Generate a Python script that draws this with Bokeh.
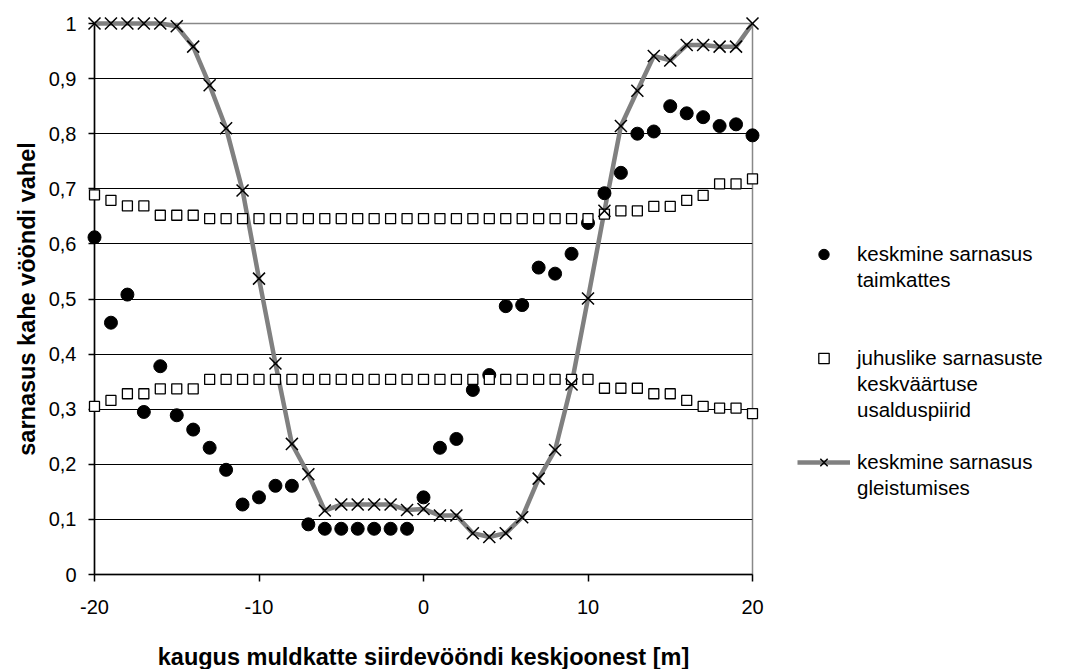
from bokeh.plotting import figure
from bokeh.models import Range1d, FixedTicker, Legend, LegendItem, ColumnDataSource
from bokeh.embed import file_html
from bokeh.resources import INLINE

distance = list(range(-20, 21))
veg_similarity = [0.612, 0.457, 0.508, 0.295, 0.378, 0.289, 0.263, 0.230, 0.190, 0.127,
                  0.140, 0.161, 0.161, 0.091, 0.083, 0.083, 0.083, 0.083, 0.083, 0.083,
                  0.140, 0.230, 0.246, 0.335, 0.362, 0.487, 0.489, 0.557, 0.546, 0.582,
                  0.638, 0.692, 0.729, 0.800, 0.804, 0.850, 0.837, 0.830, 0.814, 0.817, 0.797]
ci_upper = [0.689, 0.679, 0.669, 0.669, 0.652, 0.652, 0.652] + [0.646] * 24 + \
           [0.654, 0.660, 0.660, 0.668, 0.668, 0.679, 0.688, 0.709, 0.709, 0.718]
ci_lower = [0.305, 0.316, 0.328, 0.328, 0.337, 0.337, 0.337] + [0.354] * 24 + \
           [0.338, 0.338, 0.338, 0.328, 0.328, 0.316, 0.305, 0.302, 0.302, 0.292]
gley_similarity = [1.0, 1.0, 1.0, 1.0, 1.0, 0.995, 0.958, 0.888, 0.810, 0.697,
                   0.537, 0.383, 0.237, 0.182, 0.116, 0.127, 0.127, 0.127, 0.127, 0.117,
                   0.119, 0.107, 0.107, 0.075, 0.068, 0.075, 0.104, 0.174, 0.226, 0.345,
                   0.501, 0.660, 0.814, 0.878, 0.941, 0.933, 0.961, 0.961, 0.958, 0.958, 1.0]

xtick_values = [-20, -10, 0, 10, 20]
xtick_labels = ["-20", "-10", "0", "10", "20"]
ytick_values = [0, 0.1, 0.2, 0.3, 0.4, 0.5, 0.6, 0.7, 0.8, 0.9, 1]
ytick_labels = ["0", "0,1", "0,2", "0,3", "0,4", "0,5", "0,6", "0,7", "0,8", "0,9", "1"]

# legend text, one entry per line of each legend label
legend_veg = ["keskmine sarnasus", "taimkattes"]
legend_ci = ["juhuslike sarnasuste", "keskväärtuse", "usalduspiirid"]
legend_gley = ["keskmine sarnasus", "gleistumises"]

src = ColumnDataSource(dict(x=distance, veg=veg_similarity, up=ci_upper,
                            lo=ci_lower, gley=gley_similarity))

FONT = "Liberation Sans"

p = figure(frame_width=658, frame_height=551, output_backend="svg",
           toolbar_location=None,
           x_range=Range1d(-20, 20), y_range=Range1d(0, 1),
           min_border_left=94, min_border_right=0, min_border_top=23,
           min_border_bottom=95)
p.background_fill_color = "white"
p.border_fill_color = "white"
p.outline_line_color = "#888888"
p.outline_line_width = 1.5

p.xgrid.grid_line_color = None
p.ygrid.grid_line_color = "black"
p.ygrid.grid_line_width = 1
p.ygrid.ticker = FixedTicker(ticks=ytick_values)

p.xaxis.ticker = FixedTicker(ticks=xtick_values)
p.xaxis.major_label_overrides = {v: l for v, l in zip(xtick_values, xtick_labels)}
p.yaxis.ticker = FixedTicker(ticks=ytick_values)
p.yaxis.major_label_overrides = {v: l for v, l in zip(ytick_values, ytick_labels)}

for ax in (p.xaxis[0], p.yaxis[0]):
    ax.axis_line_color = "black"
    ax.axis_line_width = 1.5
    ax.major_tick_line_color = "black"
    ax.major_tick_line_width = 1.5
    ax.major_tick_in = 0
    ax.minor_tick_line_color = None
    ax.major_label_text_font = FONT
    ax.major_label_text_font_size = "20px"
    ax.major_label_text_color = "black"
    ax.axis_label_text_font = FONT
    ax.axis_label_text_font_size = "23.5px"
    ax.axis_label_text_font_style = "bold"
    ax.axis_label_text_color = "black"

p.xaxis.major_tick_out = 7
p.yaxis.major_tick_out = 6
p.xaxis.axis_label = "kaugus muldkatte siirdevööndi keskjoonest [m]"
p.yaxis.axis_label = "sarnasus kahe vööndi vahel"
p.xaxis.major_label_standoff = 18
p.xaxis.axis_label_standoff = 27
p.yaxis.major_label_standoff = 12
p.yaxis.axis_label_standoff = 6

r_line = p.line("x", "gley", source=src, line_color="#808080", line_width=4.5,
                level="overlay")
r_veg = p.scatter("x", "veg", source=src, marker="circle", size=13,
                  fill_color="black", line_color="black", level="overlay")
r_up = p.scatter("x", "up", source=src, marker="square", size=10,
                 fill_color="white", line_color="black", line_width=1.3,
                 level="overlay")
r_lo = p.scatter("x", "lo", source=src, marker="square", size=10,
                 fill_color="white", line_color="black", line_width=1.3,
                 level="overlay")
r_x = p.scatter("x", "gley", source=src, marker="x", size=17,
                line_color="black", line_width=1.5, level="overlay")

items = [
    LegendItem(label=legend_veg[0], renderers=[r_veg]),
    LegendItem(label=legend_veg[1], renderers=[]),
    LegendItem(label=" ", renderers=[]),
    LegendItem(label=" ", renderers=[]),
    LegendItem(label=legend_ci[0], renderers=[r_up]),
    LegendItem(label=legend_ci[1], renderers=[]),
    LegendItem(label=legend_ci[2], renderers=[]),
    LegendItem(label=" ", renderers=[]),
    LegendItem(label=legend_gley[0], renderers=[r_line, r_x]),
    LegendItem(label=legend_gley[1], renderers=[]),
]
legend = Legend(items=items, location=(45, 73))
legend.border_line_color = None
legend.background_fill_alpha = 0
legend.padding = 0
legend.margin = 0
legend.spacing = 0
legend.glyph_width = 53
legend.glyph_height = 26
legend.label_height = 26
legend.label_standoff = 7
legend.label_text_font = FONT
legend.label_text_font_size = "20.5px"
legend.label_text_color = "black"
p.add_layout(legend, "right")

open("out.html", "w").write(file_html(p, INLINE))
